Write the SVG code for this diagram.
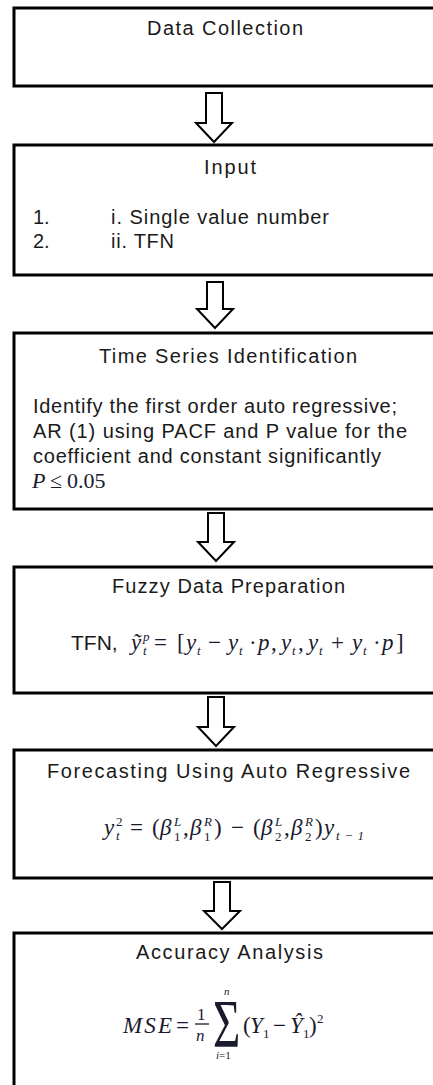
<svg xmlns="http://www.w3.org/2000/svg" width="433" height="1085" viewBox="0 0 433 1085">
  <style>
    .box { fill: #ffffff; stroke: #000000; stroke-width: 3; }
    .arrow { fill: #ffffff; stroke: #000000; stroke-width: 2; stroke-linejoin: miter; }
    .t { font-family: "Liberation Sans", Arial, sans-serif; font-size: 20px; fill: #1a1a1a; }
    .m { font-family: "Liberation Serif", "DejaVu Serif", serif; font-style: italic; font-size: 23px; fill: #1a1a2e; }
    .u { font-style: normal; }
    .s { font-size: 13px; }
    .bar { stroke: #1a1a2e; stroke-width: 1.3; }
  </style>
  <rect width="433" height="1085" fill="#ffffff"/>

  <!-- step boxes -->
  <g id="data-collection">
    <rect class="box" x="14" y="8" width="440" height="78"/>
    <text class="t" x="147" y="35" textLength="156" lengthAdjust="spacing">Data Collection</text>
  </g>

  <g id="input">
    <rect class="box" x="14" y="145" width="440" height="130"/>
    <text class="t" x="204" y="174" textLength="52" lengthAdjust="spacing">Input</text>
    <text class="t" x="33" y="224">1.</text>
    <text class="t" x="111" y="224" textLength="218" lengthAdjust="spacing">i. Single value number</text>
    <text class="t" x="33" y="248">2.</text>
    <text class="t" x="111" y="248" textLength="63" lengthAdjust="spacing">ii. TFN</text>
  </g>

  <g id="time-series-identification">
    <rect class="box" x="14" y="333" width="440" height="176"/>
    <text class="t" x="99" y="363" textLength="258" lengthAdjust="spacing">Time Series Identification</text>
    <text class="t" x="33" y="413" textLength="364" lengthAdjust="spacing">Identify the first order auto regressive;</text>
    <text class="t" x="33" y="438" textLength="374" lengthAdjust="spacing">AR (1) using PACF and P value for the</text>
    <text class="t" x="33" y="463" textLength="348" lengthAdjust="spacing">coefficient and constant significantly</text>
    <text class="m" y="488" style="font-size:22px"><tspan x="32">P</tspan><tspan class="u" x="50">≤</tspan><tspan class="u" x="67">0.05</tspan></text>
  </g>

  <g id="fuzzy-data-preparation">
    <rect class="box" x="14" y="567" width="440" height="126"/>
    <text class="t" x="112" y="593" textLength="233" lengthAdjust="spacing">Fuzzy Data Preparation</text>
    <text class="t" x="71" y="650" style="font-size:21px">TFN,</text>
    <text class="m" y="650">
      <tspan x="131">ỹ</tspan><tspan class="s" x="143" y="641">p</tspan><tspan class="s" x="143" y="655">t</tspan>
      <tspan class="u" x="154" y="650">=</tspan>
      <tspan class="u" x="177">[</tspan>
      <tspan x="186">y</tspan><tspan class="s" x="197" y="655">t</tspan>
      <tspan class="u" x="208" y="650">−</tspan>
      <tspan x="228">y</tspan><tspan class="s" x="239" y="655">t</tspan>
      <tspan class="u" x="249" y="650">·</tspan>
      <tspan x="258">p</tspan><tspan class="u" x="271">,</tspan>
      <tspan x="281">y</tspan><tspan class="s" x="292" y="655">t</tspan><tspan class="u" x="298" y="650">,</tspan>
      <tspan x="308">y</tspan><tspan class="s" x="319" y="655">t</tspan>
      <tspan class="u" x="331" y="650">+</tspan>
      <tspan x="352">y</tspan><tspan class="s" x="363" y="655">t</tspan>
      <tspan class="u" x="373" y="650">·</tspan>
      <tspan x="382">p</tspan>
      <tspan class="u" x="396">]</tspan>
    </text>
  </g>

  <g id="forecasting">
    <rect class="box" x="14" y="750" width="440" height="128"/>
    <text class="t" x="47" y="778" textLength="363" lengthAdjust="spacing">Forecasting Using Auto Regressive</text>
    <text class="m" y="835">
      <tspan x="104">y</tspan><tspan class="s u" x="116" y="826">2</tspan><tspan class="s" x="116" y="840">t</tspan>
      <tspan class="u" x="130" y="835">=</tspan>
      <tspan class="u" x="152">(</tspan>
      <tspan x="160">β</tspan><tspan class="s" x="174" y="826">L</tspan><tspan class="s u" x="174" y="841">1</tspan>
      <tspan class="u" x="183" y="835">,</tspan>
      <tspan x="190">β</tspan><tspan class="s" x="204" y="826">R</tspan><tspan class="s u" x="204" y="841">1</tspan>
      <tspan class="u" x="214" y="835">)</tspan>
      <tspan class="u" x="231">−</tspan>
      <tspan class="u" x="253">(</tspan>
      <tspan x="261">β</tspan><tspan class="s" x="275" y="826">L</tspan><tspan class="s u" x="275" y="841">2</tspan>
      <tspan class="u" x="284" y="835">,</tspan>
      <tspan x="291">β</tspan><tspan class="s" x="305" y="826">R</tspan><tspan class="s u" x="305" y="841">2</tspan>
      <tspan class="u" x="315" y="835">)</tspan>
      <tspan x="324">y</tspan><tspan class="s" x="336" y="840" textLength="28" lengthAdjust="spacing">t−1</tspan>
    </text>
  </g>

  <g id="accuracy-analysis">
    <rect class="box" x="14" y="933" width="440" height="170"/>
    <text class="t" x="136" y="959" textLength="187" lengthAdjust="spacing">Accuracy Analysis</text>
    <text class="m" x="123" y="1033" textLength="49" lengthAdjust="spacing">MSE</text>
    <text class="m u" x="176" y="1033">=</text>
    <text class="m u" x="197" y="1020" style="font-size:17px">1</text>
    <line class="bar" x1="195" y1="1024" x2="209" y2="1024"/>
    <text class="m" x="196" y="1041" style="font-size:17px">n</text>
    <text class="m u" transform="translate(213,1046) scale(1,1.42)" style="font-size:47px">Σ</text>
    <text class="m" x="224" y="995" style="font-size:11px">n</text>
    <text class="m" x="216" y="1059" style="font-size:11px">i<tspan class="u">=1</tspan></text>
    <text class="m" y="1033">
      <tspan class="u" x="243">(</tspan><tspan x="250">Y</tspan><tspan class="s u" x="263" y="1038">1</tspan>
      <tspan class="u" x="273" y="1033">−</tspan>
      <tspan x="290">Ŷ</tspan><tspan class="s u" x="303" y="1038">1</tspan>
      <tspan class="u" x="309" y="1033">)</tspan><tspan class="s u" x="317" y="1023">2</tspan>
    </text>
  </g>

  <!-- block arrows between steps -->
  <g id="connectors">
    <polygon class="arrow" points="206,93 222,93 222,123 232,123 214,142 196,123 206,123"/>
    <polygon class="arrow" points="207,282 223,282 223,309 233,309 215,328 197,309 207,309"/>
    <polygon class="arrow" points="208,513 224,513 224,542 234,542 216,561 198,542 208,542"/>
    <polygon class="arrow" points="208,697 224,697 224,727 234,727 216,746 198,727 208,727"/>
    <polygon class="arrow" points="214,882 230,882 230,911 240,911 222,929 204,911 214,911"/>
  </g>
</svg>
